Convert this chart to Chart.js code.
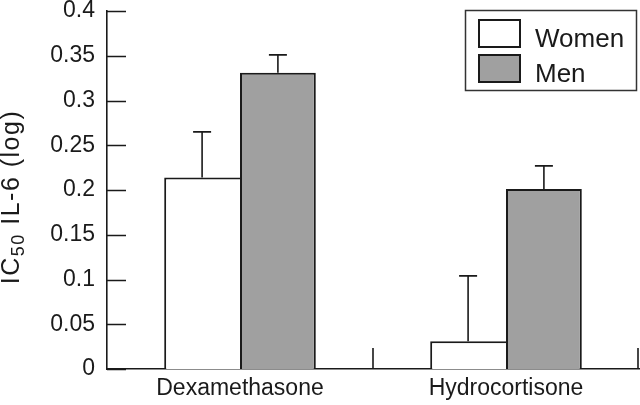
<!DOCTYPE html>
<html>
<head>
<meta charset="utf-8">
<script src="https://cdn.jsdelivr.net/npm/chart.js@4"></script>
<style>
  html, body { margin: 0; padding: 0; background: #fff; }
  #wrap { width: 640px; height: 405px; position: relative; }
</style>
</head>
<body>
<div id="wrap"><canvas id="c" width="640" height="405"></canvas></div>
<script>
// ---- data ----
const categories = ['Dexamethasone', 'Hydrocortisone'];
const seriesLabels = ['Women', 'Men'];
const womenValues = [0.214, 0.031];
const menValues = [0.331, 0.201];
const womenErrors = [0.051, 0.073];
const menErrors = [0.020, 0.026];
const yMin = 0, yMax = 0.4, yStep = 0.05;
const yTitleMain = 'IC', yTitleSub = '50', yTitleRest = ' IL-6 (log)';

const FONT = '"Liberation Sans", Arial, sans-serif';
const INK = '#1a1a1a';

const errorBars = {
  id: 'errorBars',
  afterDatasetsDraw(chart) {
    const ctx = chart.ctx, ys = chart.scales.y;
    chart.data.datasets.forEach((ds, di) => {
      const meta = chart.getDatasetMeta(di);
      meta.data.forEach((bar, i) => {
        const top = ys.getPixelForValue(ds.data[i] + ds.errors[i]);
        ctx.save();
        ctx.strokeStyle = INK; ctx.lineWidth = 1.6;
        ctx.beginPath();
        ctx.moveTo(bar.x, bar.y); ctx.lineTo(bar.x, top);
        ctx.moveTo(bar.x - 9, top); ctx.lineTo(bar.x + 9, top);
        ctx.stroke();
        ctx.restore();
      });
    });
  }
};

const axisMarks = {
  id: 'axisMarks',
  afterDraw(chart) {
    const ctx = chart.ctx, ys = chart.scales.y, xs = chart.scales.x, ca = chart.chartArea;
    ctx.save();
    ctx.strokeStyle = INK; ctx.lineWidth = 1.6;
    ctx.beginPath();
    ys.ticks.forEach(t => {
      const y = Math.round(ys.getPixelForValue(t.value)) + 0.5;
      ctx.moveTo(ca.left, y); ctx.lineTo(ca.left + 19, y);
    });
    const half = (xs.getPixelForValue(1) - xs.getPixelForValue(0)) / 2;
    categories.forEach((c, i) => {
      const x = Math.min(xs.getPixelForValue(i) + half, ca.right - 1);
      ctx.moveTo(x, ca.bottom); ctx.lineTo(x, ca.bottom - 21);
    });
    ctx.stroke();
    // y-axis title with subscript
    ctx.translate(12, 197);
    ctx.rotate(-Math.PI / 2);
    ctx.fillStyle = INK;
    ctx.textBaseline = 'middle';
    ctx.letterSpacing = '1.5px';
    const big = '25px ' + FONT, small = '18px ' + FONT;
    ctx.font = big; const w1 = ctx.measureText(yTitleMain).width, w3 = ctx.measureText(yTitleRest).width;
    ctx.font = small; const w2 = ctx.measureText(yTitleSub).width;
    let x0 = -(w1 + w2 + w3) / 2;
    ctx.font = big; ctx.fillText(yTitleMain, x0, 0);
    ctx.font = small; ctx.fillText(yTitleSub, x0 + w1, 7);
    ctx.font = big; ctx.fillText(yTitleRest, x0 + w1 + w2, 0);
    ctx.restore();
  }
};

const boxLegend = {
  id: 'boxLegend',
  afterDraw(chart) {
    const ctx = chart.ctx;
    ctx.save();
    ctx.fillStyle = '#fff';
    ctx.fillRect(465, 10, 172, 81);
    ctx.strokeStyle = '#333'; ctx.lineWidth = 1.5;
    ctx.strokeRect(465.5, 10.5, 171, 80);
    chart.data.datasets.forEach((ds, i) => {
      const y = 20 + i * 35;
      ctx.fillStyle = ds.backgroundColor;
      ctx.fillRect(479, y, 41, 27);
      ctx.strokeStyle = INK; ctx.lineWidth = 2;
      ctx.strokeRect(479, y, 41, 27);
      ctx.fillStyle = INK;
      ctx.font = '26px ' + FONT;
      ctx.textBaseline = 'alphabetic';
      ctx.fillText(ds.label, 535, y + 27);
    });
    ctx.restore();
  }
};

new Chart(document.getElementById('c'), {
  type: 'bar',
  data: {
    labels: categories,
    datasets: [
      { label: seriesLabels[0], data: womenValues, errors: womenErrors,
        backgroundColor: '#ffffff', borderColor: INK,
        borderWidth: { top: 2, left: 2, right: 0, bottom: 0 } },
      { label: seriesLabels[1], data: menValues, errors: menErrors,
        backgroundColor: '#a0a0a0', borderColor: INK,
        borderWidth: { top: 2, left: 2, right: 2, bottom: 0 } }
    ]
  },
  options: {
    responsive: false,
    animation: false,
    events: [],
    layout: { padding: { top: 11, right: 1, left: 0, bottom: 0 } },
    datasets: { bar: { categoryPercentage: 0.57, barPercentage: 1.0 } },
    plugins: { legend: { display: false }, tooltip: { enabled: false } },
    scales: {
      x: {
        grid: { display: false, drawTicks: false },
        border: { display: true, color: INK, width: 1.6 },
        ticks: { color: INK, font: { family: FONT, size: 23 }, padding: 6, maxRotation: 0 },
        afterFit(s) { s.height = 36; s.paddingLeft = 0; s.paddingRight = 0; }
      },
      y: {
        min: yMin, max: yMax,
        grid: { display: false, drawTicks: false },
        border: { display: true, color: INK, width: 1.6 },
        ticks: {
          stepSize: yStep, color: INK, padding: 12,
          font: { family: FONT, size: 23 },
          callback: v => String(Number(v.toFixed(2)))
        },
        afterFit(s) { s.width = 107; s.paddingTop = 0; s.paddingBottom = 0; }
      }
    }
  },
  plugins: [errorBars, axisMarks, boxLegend]
});
</script>
</body>
</html>
